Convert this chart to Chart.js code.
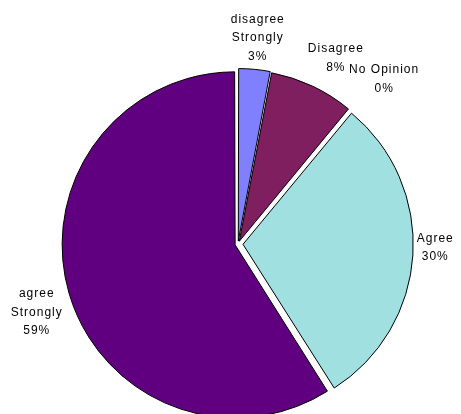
<!DOCTYPE html>
<html>
<head>
<meta charset="utf-8">
<script src="https://cdn.jsdelivr.net/npm/chart.js@4"></script>
<style>
    html, body { margin: 0; padding: 0; background: #ffffff; }
    #wrap { width: 461px; height: 414px; }
</style>
</head>
<body>
<div id="wrap"><canvas id="opinionPie"></canvas></div>
<script>
// answer categories, clockwise from 12 o'clock (label lines as printed)
const categories = [['disagree', 'Strongly'], ['Disagree'], ['No Opinion'], ['Agree'], ['agree', 'Strongly']];
const percents = [3, 8, 0, 30, 59];
const sliceColors = ['#8080ff', '#7f1f60', '#9f9fff', '#a0e0e0', '#600080'];
// Chart.js moves an arc by offset / 4
const sliceOffsets = [12, 12, 0, 20, 12];
// small hand tweaks for the text blocks
const labelNudge = [[0, 3], [9, 3], [10, 0], [-4, -9], [3, 9]];

// draws the category + percent text just outside each slice
const outsideLabels = {
    id: 'outsideLabels',
    afterDatasetsDraw(chart) {
        const ctx = chart.ctx;
        const meta = chart.getDatasetMeta(0);
        const lineH = 18.5;
        ctx.save();
        ctx.font = '12px "Liberation Sans", Arial, sans-serif';
        ctx.letterSpacing = '1px';
        ctx.fillStyle = '#000000';
        ctx.textAlign = 'center';
        ctx.textBaseline = 'middle';
        meta.data.forEach((arc, i) => {
            const p = arc.getProps(['x', 'y', 'startAngle', 'endAngle', 'outerRadius'], true);
            const mid = (p.startAngle + p.endAngle) / 2;
            const lines = categories[i].concat([percents[i] + '%']);
            let halfW = 0;
            lines.forEach(t => { halfW = Math.max(halfW, ctx.measureText(t).width / 2); });
            const halfH = lines.length * lineH / 2;
            const cos = Math.cos(mid), sin = Math.sin(mid);
            const off = sliceOffsets[i] / 4;
            const d = p.outerRadius + off + 7 + halfW * Math.abs(cos) + halfH * Math.abs(sin);
            const cx = p.x + cos * d + labelNudge[i][0];
            const cy = p.y + sin * d + labelNudge[i][1];
            lines.forEach((t, k) => {
                ctx.fillText(t, cx, cy - halfH + lineH * (k + 0.5));
            });
        });
        ctx.restore();
    }
};

const opinionPie = document.getElementById('opinionPie');

new Chart(opinionPie, {
    type: 'pie',
    data: {
        labels: categories,
        datasets: [
            {
                data: percents,
                backgroundColor: sliceColors,
                borderColor: '#000000',
                borderWidth: 1,
                offset: sliceOffsets,
                borderJoinStyle: 'miter'
            }
        ]
    },
    options: {
        responsive: true,
        maintainAspectRatio: false,
        animation: false,
        radius: 170,
        layout: {
            padding: { left: 15, right: 0, top: 74, bottom: 0 }
        },
        plugins: {
            legend: { display: false },
            tooltip: { enabled: false }
        }
    },
    plugins: [outsideLabels]
});
</script>
</body>
</html>
